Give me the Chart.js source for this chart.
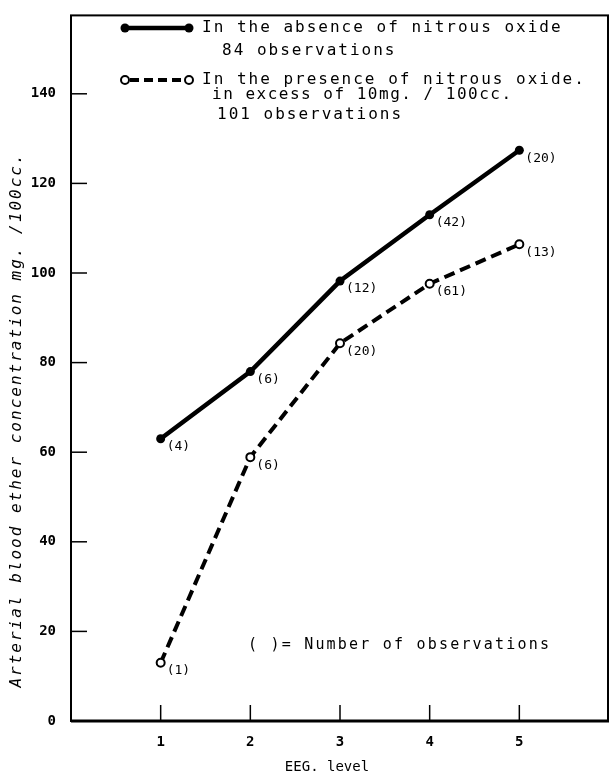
<!DOCTYPE HTML>
<html lang="en-US">

<head>
    <title>EEG level vs arterial ether</title>
    <meta charset="utf-8" />
    <script src="https://cdn.jsdelivr.net/npm/chart.js@4"></script>
    <style>
        body { margin: 0; background: #fff; }
    </style>
</head>

<body>
    <canvas id="graph" width="615" height="776"></canvas>
    <script>
        // values
        const eegLevels = [1, 2, 3, 4, 5];
        const absenceValues = [63, 78, 98.2, 113, 127.4];
        const presenceValues = [13, 58.9, 84.3, 97.6, 106.4];
        const absenceCounts = ['(4)', '(6)', '(12)', '(42)', '(20)'];
        const presenceCounts = ['(1)', '(6)', '(20)', '(61)', '(13)'];
        const yTicks = [0, 20, 40, 60, 80, 100, 120, 140];
        const xTicks = [1, 2, 3, 4, 5];

        const mono = '"DejaVu Sans Mono", monospace';

        const decor = {
            id: 'decor',
            afterDraw(chart) {
                const ctx = chart.ctx;
                const a = chart.chartArea;
                const sx = chart.scales.x, sy = chart.scales.y;
                ctx.save();
                ctx.strokeStyle = '#000';
                ctx.fillStyle = '#000';

                // frame
                ctx.lineWidth = 2;
                ctx.strokeRect(a.left, a.top, a.right - a.left - 1, a.bottom - a.top);
                ctx.lineWidth = 3;
                ctx.beginPath();
                ctx.moveTo(a.left, a.bottom);
                ctx.lineTo(a.right, a.bottom);
                ctx.stroke();

                // inward tick marks
                ctx.lineWidth = 1.5;
                for (const v of yTicks) {
                    const y = sy.getPixelForValue(v);
                    ctx.beginPath();
                    ctx.moveTo(a.left, y);
                    ctx.lineTo(a.left + 16, y);
                    ctx.stroke();
                }
                for (const v of xTicks) {
                    const x = sx.getPixelForValue(v);
                    ctx.beginPath();
                    ctx.moveTo(x, a.bottom);
                    ctx.lineTo(x, a.bottom - 16);
                    ctx.stroke();
                }

                // observation counts next to each point
                ctx.font = '13px ' + mono;
                ctx.textAlign = 'left';
                ctx.textBaseline = 'middle';
                const sets = [[absenceValues, absenceCounts], [presenceValues, presenceCounts]];
                for (const [vals, counts] of sets) {
                    vals.forEach((v, i) => {
                        ctx.fillText(counts[i], sx.getPixelForValue(eegLevels[i]) + 6, sy.getPixelForValue(v) + 8);
                    });
                }

                // legend
                ctx.lineWidth = 4.5;
                ctx.beginPath();
                ctx.moveTo(125, 28);
                ctx.lineTo(189, 28);
                ctx.stroke();
                for (const x of [125, 189]) {
                    ctx.beginPath();
                    ctx.arc(x, 28, 4.5, 0, Math.PI * 2);
                    ctx.fill();
                }
                ctx.lineWidth = 4;
                ctx.setLineDash([9, 5]);
                ctx.beginPath();
                ctx.moveTo(130, 80);
                ctx.lineTo(185, 80);
                ctx.stroke();
                ctx.setLineDash([]);
                ctx.lineWidth = 2;
                ctx.fillStyle = '#fff';
                for (const x of [125, 189]) {
                    ctx.beginPath();
                    ctx.arc(x, 80, 4, 0, Math.PI * 2);
                    ctx.fill();
                    ctx.stroke();
                }
                ctx.fillStyle = '#000';

                ctx.font = '16px ' + mono;
                ctx.letterSpacing = '2px';
                ctx.fillText('In the absence of nitrous oxide', 202, 28);
                ctx.fillText('84 observations', 222, 51);
                ctx.fillText('In the presence of nitrous oxide.', 202, 80);
                ctx.fillText('101 observations', 217, 115);
                ctx.letterSpacing = '1.5px';
                ctx.fillText('in excess of 10mg. / 100cc.', 212, 95);

                ctx.font = '15px ' + mono;
                ctx.letterSpacing = '2.2px';
                ctx.fillText('( )= Number of observations', 248, 645);

                // axis titles
                ctx.textAlign = 'center';
                ctx.font = '14px ' + mono;
                ctx.letterSpacing = '0px';
                ctx.fillText('EEG. level', 327, 767);

                ctx.translate(17, 420);
                ctx.rotate(-Math.PI / 2);
                ctx.font = 'italic 16px ' + mono;
                ctx.letterSpacing = '2px';
                ctx.fillText('Arterial blood ether concentration mg. /100cc.', 0, 0);
                ctx.restore();
            }
        };

        const graph = new Chart(document.getElementById('graph').getContext('2d'), {
            type: 'line',
            data: {
                datasets: [{
                    label: 'In the absence of nitrous oxide',
                    data: eegLevels.map((x, i) => ({ x: x, y: absenceValues[i] })),
                    borderColor: '#000',
                    borderWidth: 4.5,
                    pointRadius: 4.5,
                    pointBorderWidth: 0,
                    pointBackgroundColor: '#000',
                    pointBorderColor: '#000',
                    tension: 0
                }, {
                    label: 'In the presence of nitrous oxide',
                    data: eegLevels.map((x, i) => ({ x: x, y: presenceValues[i] })),
                    borderColor: '#000',
                    borderWidth: 4,
                    borderDash: [11, 6],
                    pointRadius: 4,
                    pointBorderWidth: 2,
                    pointBackgroundColor: '#fff',
                    pointBorderColor: '#000',
                    tension: 0
                }]
            },
            options: {
                responsive: false,
                animation: false,
                layout: { padding: { top: 7, right: 0, left: 0, bottom: 0 } },
                plugins: { legend: { display: false }, tooltip: { enabled: false } },
                scales: {
                    x: {
                        type: 'linear',
                        min: 0,
                        max: 6,
                        afterFit: (s) => { s.height = 55; },
                        grid: { display: false },
                        border: { display: false },
                        ticks: {
                            stepSize: 1,
                            color: '#000',
                            padding: 5,
                            font: { family: mono, size: 14, weight: 'bold' },
                            callback: (v) => xTicks.includes(v) ? v : ''
                        }
                    },
                    y: {
                        min: 0,
                        max: 157.5,
                        afterFit: (s) => { s.width = 71; },
                        grid: { display: false },
                        border: { display: false },
                        ticks: {
                            stepSize: 20,
                            color: '#000',
                            padding: 7,
                            font: { family: mono, size: 14, weight: 'bold' },
                            callback: (v) => yTicks.includes(v) ? v : ''
                        }
                    }
                }
            },
            plugins: [decor]
        });
    </script>
</body>

</html>
